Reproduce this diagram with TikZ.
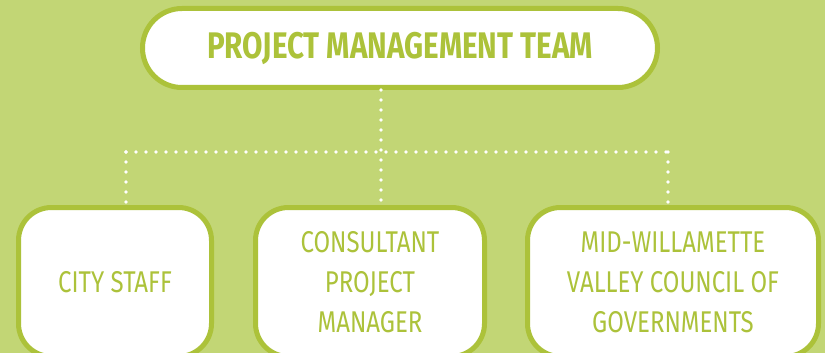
\documentclass[tikz,border=0pt]{standalone}
\usepackage{fontspec}
\setmainfont{Fira Sans}[FakeStretch=0.8]
\usetikzlibrary{positioning}

\definecolor{leaf}{RGB}{194,214,117}
\definecolor{lime}{RGB}{172,194,58}

\begin{document}
\begin{tikzpicture}[x=1pt,y=-1pt,
  box/.style={draw=lime,line width=5pt,fill=white,rounded corners=33pt,
    text=lime,align=center,inner sep=0pt,font=\fontsize{30}{40}\selectfont},
  dots/.style={draw=white,line width=3.6pt,line cap=round,dash pattern=on 0pt off 10pt}]
\fill[leaf] (0,0) rectangle (825,353);
\useasboundingbox (0,0) rectangle (825,353);
% team on top
\node[box,rounded corners=39.5pt,minimum width=515pt,minimum height=79pt,
  font=\bfseries\fontsize{37}{40}\selectfont] (pmt) at (400,48) {PROJECT MANAGEMENT TEAM};
% the three partners
\node[box,minimum width=193pt,minimum height=149pt] (cs) at (115,282) {CITY STAFF};
\node[box,minimum width=229pt,minimum height=149pt] (cpm) at (370,282) {CONSULTANT\\PROJECT\\MANAGER};
\node[box,minimum width=291pt,minimum height=149pt] (cog) at (673,282) {MID-WILLAMETTE\\VALLEY COUNCIL OF\\GOVERNMENTS};
% dotted links
\coordinate (j) at (381,152);
\coordinate (jl) at (126,152);
\coordinate (jr) at (668,152);
\draw[dots] (j |- pmt.south) -- (j |- cpm.north);
\draw[dots] (jl) -- (jr);
\draw[dots] (jl) -- (jl |- cs.north);
\draw[dots] (jr) -- (jr |- cog.north);
\end{tikzpicture}
\end{document}
